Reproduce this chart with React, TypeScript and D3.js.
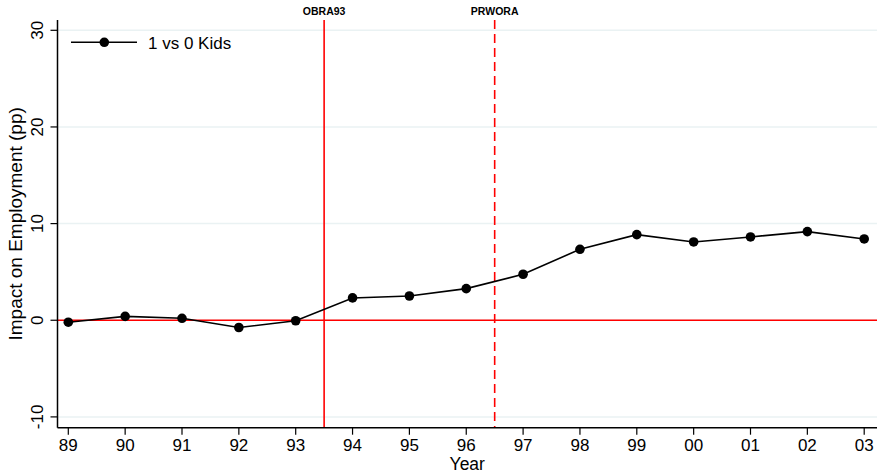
import React from "react";
import * as d3 from "d3";

const years = ["89", "90", "91", "92", "93", "94", "95", "96", "97", "98", "99", "00", "01", "02", "03"];
const yearNums = [1989, 1990, 1991, 1992, 1993, 1994, 1995, 1996, 1997, 1998, 1999, 2000, 2001, 2002, 2003];
const impact = [-0.2, 0.4, 0.2, -0.75, -0.05, 2.31, 2.51, 3.27, 4.76, 7.34, 8.86, 8.1, 8.62, 9.17, 8.41];
const yTicks = [-10, 0, 10, 20, 30];
const policyLines = [
  { label: "OBRA93", year: 1993.5, dashed: false },
  { label: "PRWORA", year: 1996.5, dashed: true },
];
const seriesName = "1 vs 0 Kids";

const W = 877;
const H = 474;
const FONT = "'Liberation Sans', Arial, Helvetica, sans-serif";

export default function App() {
  const left = 57.5;
  const right = 877;
  const top = 20;
  const bottom = 427.7;

  const x = d3.scaleLinear().domain([1989, 2003]).range([68.3, 864.2]);
  const y = d3.scaleLinear().domain([-10, 30]).range([416.9, 30.3]);

  const pts = yearNums.map((yr, i) => [x(yr), y(impact[i])] as [number, number]);
  const line = d3.line()(pts) || "";

  return (
    <svg
      width={W}
      height={H}
      style={{ position: "absolute", left: 0, top: 0, display: "block", background: "#fff" }}
      fontFamily={FONT}
    >
      <rect x={0} y={0} width={W} height={H} fill="#ffffff" />
      {/* gridlines */}
      {yTicks.map((t) => (
        <line key={"g" + t} x1={left} x2={right} y1={y(t)} y2={y(t)} stroke="#eaf2f3" strokeWidth={1.5} />
      ))}
      {/* zero line */}
      <line x1={left} x2={right} y1={y(0)} y2={y(0)} stroke="#ff0000" strokeWidth={1.5} />
      {/* policy lines */}
      {policyLines.map((p) => (
        <g key={p.label}>
          <line
            x1={x(p.year)}
            x2={x(p.year)}
            y1={top}
            y2={bottom}
            stroke="#ff0000"
            strokeWidth={1.6}
            strokeDasharray={p.dashed ? "9 5" : undefined}
          />
          <text x={x(p.year)} y={15} textAnchor="middle" fontSize={10.5} fontWeight="bold" fill="#000">
            {p.label}
          </text>
        </g>
      ))}
      {/* axes */}
      <line x1={left} x2={left} y1={top} y2={bottom} stroke="#000" strokeWidth={1.5} />
      <line x1={left} x2={right} y1={bottom} y2={bottom} stroke="#000" strokeWidth={1.5} />
      {yTicks.map((t) => (
        <g key={"yt" + t}>
          <line x1={left - 7} x2={left} y1={y(t)} y2={y(t)} stroke="#000" strokeWidth={1.2} />
          <text
            transform={`translate(42.5,${y(t)}) rotate(-90)`}
            textAnchor="middle"
            fontSize={17}
            fill="#000"
          >
            {t}
          </text>
        </g>
      ))}
      {years.map((lab, i) => (
        <g key={"xt" + lab}>
          <line x1={x(yearNums[i])} x2={x(yearNums[i])} y1={bottom} y2={bottom + 7} stroke="#000" strokeWidth={1.2} />
          <text x={x(yearNums[i])} y={450.8} textAnchor="middle" fontSize={17} fill="#000">
            {lab}
          </text>
        </g>
      ))}
      {/* axis titles */}
      <text x={(left + right) / 2} y={470} textAnchor="middle" fontSize={17.5} fill="#000">
        Year
      </text>
      <text
        transform={`translate(22,${(top + bottom) / 2}) rotate(-90)`}
        textAnchor="middle"
        fontSize={19}
        fill="#000"
      >
        Impact on Employment (pp)
      </text>
      {/* series */}
      <path d={line} fill="none" stroke="#000" strokeWidth={1.6} />
      {pts.map((p, i) => (
        <circle key={"pt" + i} cx={p[0]} cy={p[1]} r={4.8} fill="#000" />
      ))}
      {/* legend */}
      <line x1={71} x2={137} y1={42.3} y2={42.3} stroke="#000" strokeWidth={1.6} />
      <circle cx={104.3} cy={42.3} r={4.8} fill="#000" />
      <text x={148} y={48.5} fontSize={17} fill="#000">
        {seriesName}
      </text>
    </svg>
  );
}
